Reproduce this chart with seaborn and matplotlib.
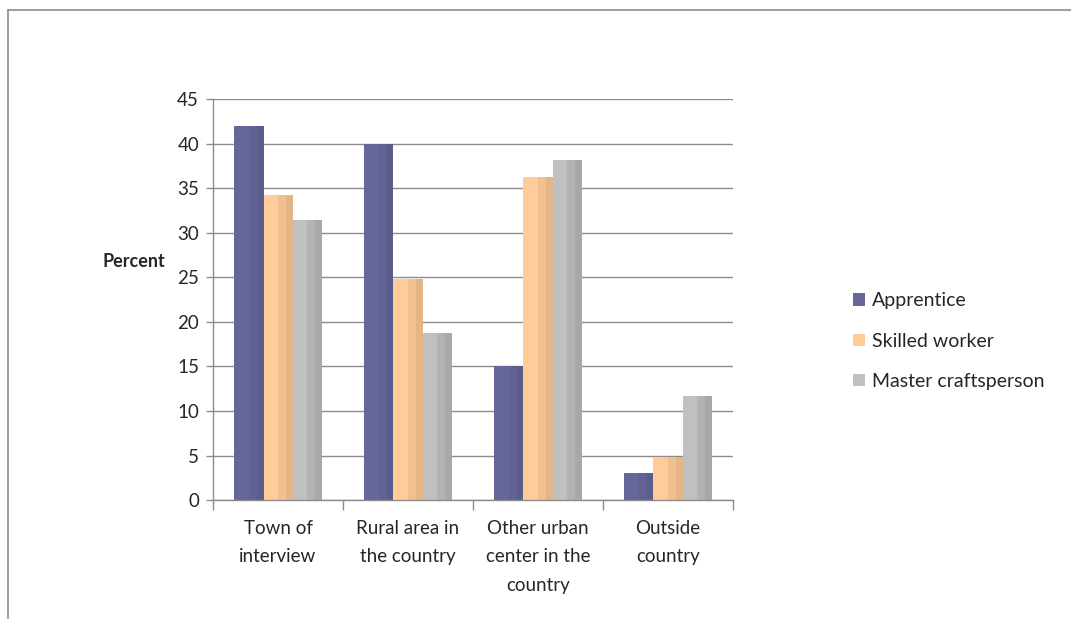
import matplotlib
matplotlib.use("Agg")
import matplotlib.pyplot as plt
from matplotlib.patches import Rectangle, Patch
from matplotlib.lines import Line2D
import matplotlib.colors as mcolors
import numpy as np
import pandas as pd
import seaborn as sns

# data
categories = ["Town of\ninterview", "Rural area in\nthe country",
              "Other urban\ncenter in the\ncountry", "Outside\ncountry"]
groups = ["Apprentice", "Skilled worker", "Master craftsperson"]
apprentice = [42, 40, 15, 3.1]
skilled = [34.2, 24.8, 36.2, 4.8]
master = [31.4, 18.7, 38.2, 11.7]
yticks = [0, 5, 10, 15, 20, 25, 30, 35, 40, 45]

colors = ["#666699", "#FFCC99", "#C0C0C0"]
shade1 = ["#606293", "#F0C08F", "#B3B3B3"]
shade2 = ["#5A5C8C", "#E3B587", "#A8A8A8"]

rows = []
for g, vals in zip(groups, [apprentice, skilled, master]):
    for c, v in zip(categories, vals):
        rows.append([c, g, v])
df = pd.DataFrame(rows, columns=["Origin", "Level", "Percent"])

sns.set_style("white")
plt.rcParams["font.family"] = ["Lato", "DejaVu Sans"]

fig = plt.figure(figsize=(10.71, 6.19), dpi=100)
ax = fig.add_axes([0.1989, 0.192, 0.4855, 0.648])

sns.barplot(data=df, x="Origin", y="Percent", hue="Level", hue_order=groups,
            order=categories, palette=colors, width=0.67, saturation=1,
            linewidth=0, legend=False, ax=ax)

# Excel-like vertical shading on each bar
hexes = [mcolors.to_hex(c) for c in colors]
for p in list(ax.patches):
    fc = mcolors.to_hex(p.get_facecolor())
    if fc not in hexes:
        continue
    idx = hexes.index(fc)
    x, w, h = p.get_x(), p.get_width(), p.get_height()
    ax.add_patch(Rectangle((x + 0.5 * w, 0), 0.5 * w, h, color=shade1[idx], lw=0, zorder=p.get_zorder()))
    ax.add_patch(Rectangle((x + 0.78 * w, 0), 0.22 * w, h, color=shade2[idx], lw=0, zorder=p.get_zorder()))

ax.set_ylim(0, 45)
ax.set_xlim(-0.5, len(categories) - 0.5)
ax.set_yticks(yticks)
ax.yaxis.grid(True, color="#8c8c8c", linewidth=1)
ax.set_axisbelow(True)

for s in ["top", "right"]:
    ax.spines[s].set_visible(False)
for s in ["left", "bottom"]:
    ax.spines[s].set_color("#8c8c8c")
    ax.spines[s].set_linewidth(1)

ax.tick_params(axis="y", left=True, length=5, width=1, color="#8c8c8c",
               labelsize=13.5, pad=5)
ax.tick_params(axis="x", which="major", length=0, labelsize=13.5, pad=14)
ax.set_xticks(np.arange(-0.5, len(categories)), minor=True)
ax.tick_params(axis="x", which="minor", bottom=True, length=7, width=1, color="#8c8c8c")
for lab in ax.get_xticklabels():
    lab.set_linespacing(1.85)
    lab.set_verticalalignment("top")

ax.set_xlabel("")
ax.set_ylabel("Percent", fontsize=13, fontweight="bold", rotation=0,
              va="center", ha="center")
ax.yaxis.set_label_coords(-0.152, 0.594)

handles = [Patch(facecolor=c, edgecolor="none") for c in colors]
fig.legend(handles, groups, loc="upper left", bbox_to_anchor=(0.780, 0.556),
           frameon=False, fontsize=14, handlelength=0.6, handleheight=0.6,
           handletextpad=0.4, labelspacing=1.2)

# outer chart frame (cropped at right and bottom)
fig.add_artist(Line2D([0.0075, 1.0], [1 - 10 / 619, 1 - 10 / 619], color="#8c8c8c", lw=1.2))
fig.add_artist(Line2D([0.0075, 0.0075], [0.0, 1 - 10 / 619], color="#8c8c8c", lw=1.2))

fig.savefig("out.png", dpi=100, facecolor="white")
